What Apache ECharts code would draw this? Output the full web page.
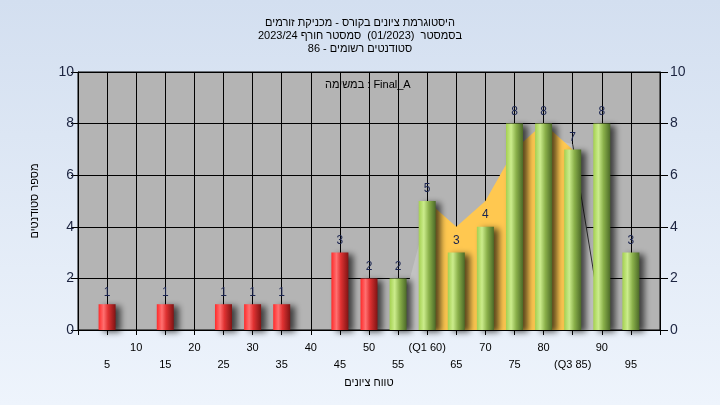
<!DOCTYPE html>
<html>
<head>
<meta charset="utf-8">
<script src="https://cdn.jsdelivr.net/npm/echarts@6/dist/echarts.min.js"></script>
<style>
html,body{margin:0;padding:0;}
#c{width:720px;height:405px;background:linear-gradient(#d3dff0,#eef4fc);}
</style>
</head>
<body>
<div id="c"></div>
<script>
const titleLines = ['היסטוגרמת ציונים בקורס - מכניקת זורמים', 'בסמסטר  (01/2023)  סמסטר חורף 2023/24', 'סטודנטים רשומים - 86'];
const taskLabel = 'במשימה : Final_A';
const xAxisName = 'טווח ציונים';
const yAxisName = 'מספר סטודנטים';
const categories = ['0','5','10','15','20','25','30','35','40','45','50','55','60','65','70','75','80','85','90','95','100'];
const xTickLabels = ['','5','10','15','20','25','30','35','40','45','50','55','(Q1 60)','65','70','75','80','(Q3 85)','90','95',''];
const counts = [null,1,null,1,null,1,1,1,null,3,2,2,5,3,4,8,8,7,8,3,null];
const passThreshold = 55;
const yellowArea = [null,null,null,null,null,null,null,null,null,null,null,null,5,4,5,7,8,7,null,null,null];
const grayArea = [null,null,null,null,null,null,null,null,null,null,null,0.3,4.5,3.5,4.5,6.5,7.5,7.2,0.3,null,null];
const grayEdge = [null,null,null,null,null,null,null,null,null,null,null,null,null,null,null,null,null,7.2,0.3,null,null];

const FONT = 'Arial, "Liberation Sans", "DejaVu Sans", sans-serif';
const G = echarts.graphic.LinearGradient;
const redGrad = new G(0,0,1,0,[{offset:0,color:'#ff2a2a'},{offset:0.3,color:'#ff7070'},{offset:0.55,color:'#e03232'},{offset:1,color:'#801414'}]);
const greenGrad = new G(0,0,1,0,[{offset:0,color:'#a4d050'},{offset:0.3,color:'#cbec8c'},{offset:0.6,color:'#8ab04a'},{offset:1,color:'#4c6a28'}]);

const barData = counts.map((v,i)=>({value:v, itemStyle:{color: (+categories[i] >= passThreshold) ? greenGrad : redGrad}}));

const chart = echarts.init(document.getElementById('c'));
chart.setOption({
  animation:false,
  textStyle:{fontFamily:FONT},
  title:{text:titleLines.join('\n'), left:'center', top:11,
    textStyle:{fontSize:11, fontWeight:'normal', color:'#000', lineHeight:13, fontFamily:FONT}},
  graphic:[{type:'text', left:325, top:79, style:{text:taskLabel, fontSize:11, fill:'#000', font:'11px '+FONT}}],
  grid:{left:78, right:60, top:72, bottom:75, show:true, backgroundColor:'#b4b4b4', borderColor:'#000', borderWidth:1},
  xAxis:{type:'category', data:categories, boundaryGap:false,
    name:xAxisName, nameLocation:'middle', nameGap:45,
    nameTextStyle:{fontSize:11, color:'#000', fontFamily:FONT},
    axisLine:{lineStyle:{color:'#000'}},
    axisTick:{show:true, length:5, lineStyle:{color:'#000'}, interval:0},
    splitLine:{show:true, interval:0, lineStyle:{color:'#000', width:1}},
    axisLabel:{interval:0, fontSize:11, color:'#000', lineHeight:17, margin:9,
      formatter:(v,i)=>{const t=xTickLabels[i]; return (i%2===1)?('\n'+t):t;}}
  },
  yAxis:[
    {type:'value', min:0, max:10, interval:2, position:'left',
     name:yAxisName, nameLocation:'middle', nameGap:38, nameRotate:90,
     nameTextStyle:{fontSize:11, color:'#000', fontFamily:FONT},
     axisLine:{show:true, lineStyle:{color:'#000'}},
     axisTick:{show:true, length:7, lineStyle:{color:'#000'}},
     splitLine:{show:true, lineStyle:{color:'#000', width:1}},
     axisLabel:{fontSize:14, color:'#1c2440', margin:4}},
    {type:'value', min:0, max:10, interval:2, position:'right',
     axisLine:{show:true, lineStyle:{color:'#000'}},
     axisTick:{show:true, length:8, lineStyle:{color:'#000'}},
     splitLine:{show:false},
     axisLabel:{fontSize:14, color:'#1c2440', margin:10}}
  ],
  series:[
    {type:'line', data:grayArea, symbol:'none', connectNulls:false, z:1,
     lineStyle:{width:0}, areaStyle:{color:'#c2c2c2', opacity:1}},
    {type:'line', data:grayEdge, symbol:'none', z:1,
     lineStyle:{width:1, color:'#303030'}},
    {type:'line', data:yellowArea, symbol:'none', z:2,
     lineStyle:{width:0}, areaStyle:{color:'#ffc850', opacity:1}},
    {type:'bar', data:barData, barWidth:17, z:3,
     itemStyle:{shadowBlur:6, shadowColor:'rgba(0,0,0,0.65)', shadowOffsetX:5, shadowOffsetY:2},
     label:{show:true, position:'top', distance:6, fontSize:12, color:'#1a2450', fontFamily:FONT}}
  ]
});
</script>
</body>
</html>
